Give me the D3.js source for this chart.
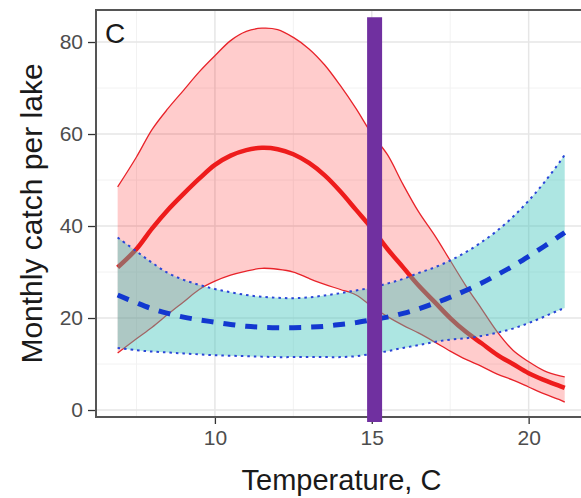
<!DOCTYPE html>
<html><head><meta charset="utf-8">
<script src="https://cdn.jsdelivr.net/npm/d3@7"></script>
<style>html,body{margin:0;padding:0;background:#fff;}svg{display:block;font-family:"Liberation Sans",Arial,sans-serif;}</style>
</head><body>
<svg id="chart" width="581" height="498"></svg>
<script>
const temps = [6.9,7.5,8,8.5,9,9.5,10,10.5,11,11.5,12,12.5,13,13.5,14,14.5,15,15.5,16,16.5,17,17.5,18,18.5,19,19.5,20,20.5,21,21.15];
const redMean  = [31,35,39.5,43.5,47,50.3,53.3,55.3,56.5,57,56.7,55.6,53.7,51,47.5,43.5,39.5,35,31,27,23.5,20,17,14.5,12,10,8,6.5,5.2,4.8];
const redUpper = [48.5,55,61,65.5,69.5,73.5,77,80.3,82.3,83,82.7,81,78.5,75,70.5,65.5,60,55.5,49,43,38,32.5,27,22,17,13,10.5,8.5,7.4,7.2];
const redLower = [12.4,15.5,18,20.8,23.5,26.2,28,29.3,30.2,30.8,30.6,30,28.6,27.3,26.2,25,22.5,20.3,18.4,16.7,14.8,12.8,11,9.5,7.8,6.5,5,3.5,2.2,1.7];
const blueMean  = [25,23.3,22,21,20.2,19.6,19.1,18.6,18.2,18,17.9,17.9,18,18.2,18.6,19,19.6,20.2,21,22,23.2,24.5,26,27.6,29.4,31.3,33.4,35.6,37.9,38.6];
const blueUpper = [37.5,34.5,32,29.8,28.3,27.2,26.3,25.6,25,24.6,24.4,24.3,24.5,24.9,25.4,26,26.6,27.5,28.5,29.8,31,32.5,34.3,36.5,39,42,45.5,49.5,54,55.5];
const blueLower = [13.5,13,12.7,12.5,12.3,12.1,11.9,11.8,11.7,11.6,11.5,11.5,11.5,11.5,11.5,11.7,12.2,12.8,13.5,14.1,14.8,15.3,15.6,16.1,16.8,17.7,18.9,20.3,21.8,22.2];
const xTicks = [10,15,20];
const xMinor = [7.5,12.5,17.5];
const yTicks = [0,20,40,60,80];
const yMinor = [10,30,50,70];
const threshold = 15.09;
const thresholdSpan = [-2.6, 85.4];
const panelLabel = "C";
const xTitle = "Temperature, C";
const yTitle = "Monthly catch per lake";

const svg = d3.select("#chart");
const L = 96, R = 587, T = 10, B = 417;
const x = d3.scaleLinear().domain([6.21, 21.86]).range([L, R]);
const y = d3.scaleLinear().domain([-1.52, 86.96]).range([B, T]);

svg.append("defs").append("clipPath").attr("id","clip")
  .append("rect").attr("x",L).attr("y",T).attr("width",R-L).attr("height",B-T);

// grid
const grid = svg.append("g");
grid.selectAll(".vmin").data(xMinor).join("line")
  .attr("x1",d=>x(d)).attr("x2",d=>x(d)).attr("y1",T).attr("y2",B)
  .attr("stroke","#F2F2F2").attr("stroke-width",1);
grid.selectAll(".hmin").data(yMinor).join("line")
  .attr("y1",d=>y(d)).attr("y2",d=>y(d)).attr("x1",L).attr("x2",R)
  .attr("stroke","#F2F2F2").attr("stroke-width",1);
grid.selectAll(".vmaj").data(xTicks).join("line")
  .attr("x1",d=>x(d)).attr("x2",d=>x(d)).attr("y1",T).attr("y2",B)
  .attr("stroke","#E6E6E6").attr("stroke-width",1.5);
grid.selectAll(".hmaj").data(yTicks).join("line")
  .attr("y1",d=>y(d)).attr("y2",d=>y(d)).attr("x1",L).attr("x2",R)
  .attr("stroke","#E6E6E6").attr("stroke-width",1.5);

const plot = svg.append("g").attr("clip-path","url(#clip)");
const idx = d3.range(temps.length);
const curve = d3.curveCatmullRom;
const area = (lo, hi) => d3.area().x(i=>x(temps[i])).y0(i=>y(lo[i])).y1(i=>y(hi[i])).curve(curve)(idx);
const line = (arr) => d3.line().x(i=>x(temps[i])).y(i=>y(arr[i])).curve(curve)(idx);

// red ribbon and lines
plot.append("path").attr("d",area(redLower,redUpper)).attr("fill","#FF0000").attr("fill-opacity",0.2);
plot.append("path").attr("d",line(redUpper)).attr("fill","none").attr("stroke","#E8232A").attr("stroke-width",1.3);
plot.append("path").attr("d",line(redLower)).attr("fill","none").attr("stroke","#E8232A").attr("stroke-width",1.3);
plot.append("path").attr("d",line(redMean)).attr("fill","none").attr("stroke","#EE1C1C").attr("stroke-width",4.5);

// blue ribbon and lines
plot.append("path").attr("d",area(blueLower,blueUpper)).attr("fill","#3CC4BA").attr("fill-opacity",0.42);
plot.append("path").attr("d",line(blueUpper)).attr("fill","none").attr("stroke","#2A45D8").attr("stroke-width",2).attr("stroke-dasharray","2.5,4");
plot.append("path").attr("d",line(blueLower)).attr("fill","none").attr("stroke","#2A45D8").attr("stroke-width",2).attr("stroke-dasharray","2.5,4");
plot.append("path").attr("d",line(blueMean)).attr("fill","none").attr("stroke","#1238D0").attr("stroke-width",5).attr("stroke-dasharray","12,10");

// axes
const xAxis = d3.axisBottom(x).tickValues(xTicks).tickSize(7).tickPadding(6);
const gx = svg.append("g").attr("transform",`translate(0,${B})`).call(xAxis);
gx.select(".domain").remove();
gx.selectAll("line").attr("stroke","#333").attr("stroke-width",1.3);
gx.selectAll("text").attr("fill","#4D4D4D").attr("font-size",21).attr("font-family","Liberation Sans, Arial, sans-serif");

const yAxis = d3.axisLeft(y).tickValues(yTicks).tickSize(8).tickPadding(5);
const gy = svg.append("g").attr("transform",`translate(${L},0)`).call(yAxis);
gy.select(".domain").remove();
gy.selectAll("line").attr("stroke","#333").attr("stroke-width",1.3);
gy.selectAll("text").attr("fill","#4D4D4D").attr("font-size",21).attr("font-family","Liberation Sans, Arial, sans-serif");

// panel border
svg.append("rect").attr("x",L).attr("y",T).attr("width",R-L).attr("height",B-T)
  .attr("fill","none").attr("stroke","#555").attr("stroke-width",2);

// threshold line
svg.append("line").attr("x1",x(threshold)).attr("x2",x(threshold))
  .attr("y1",y(thresholdSpan[1])).attr("y2",y(thresholdSpan[0]))
  .attr("stroke","#7030A0").attr("stroke-width",15);

// labels
svg.append("text").attr("x",105).attr("y",43).attr("font-size",28).attr("fill","#1a1a1a").text(panelLabel);
svg.append("text").attr("x",(L+R)/2).attr("y",490).attr("text-anchor","middle").attr("font-size",29).attr("fill","#1a1a1a").text(xTitle);
svg.append("text").attr("transform",`translate(42,${(T+B)/2}) rotate(-90)`).attr("text-anchor","middle").attr("font-size",30).attr("fill","#1a1a1a").text(yTitle);
</script>
</body></html>
